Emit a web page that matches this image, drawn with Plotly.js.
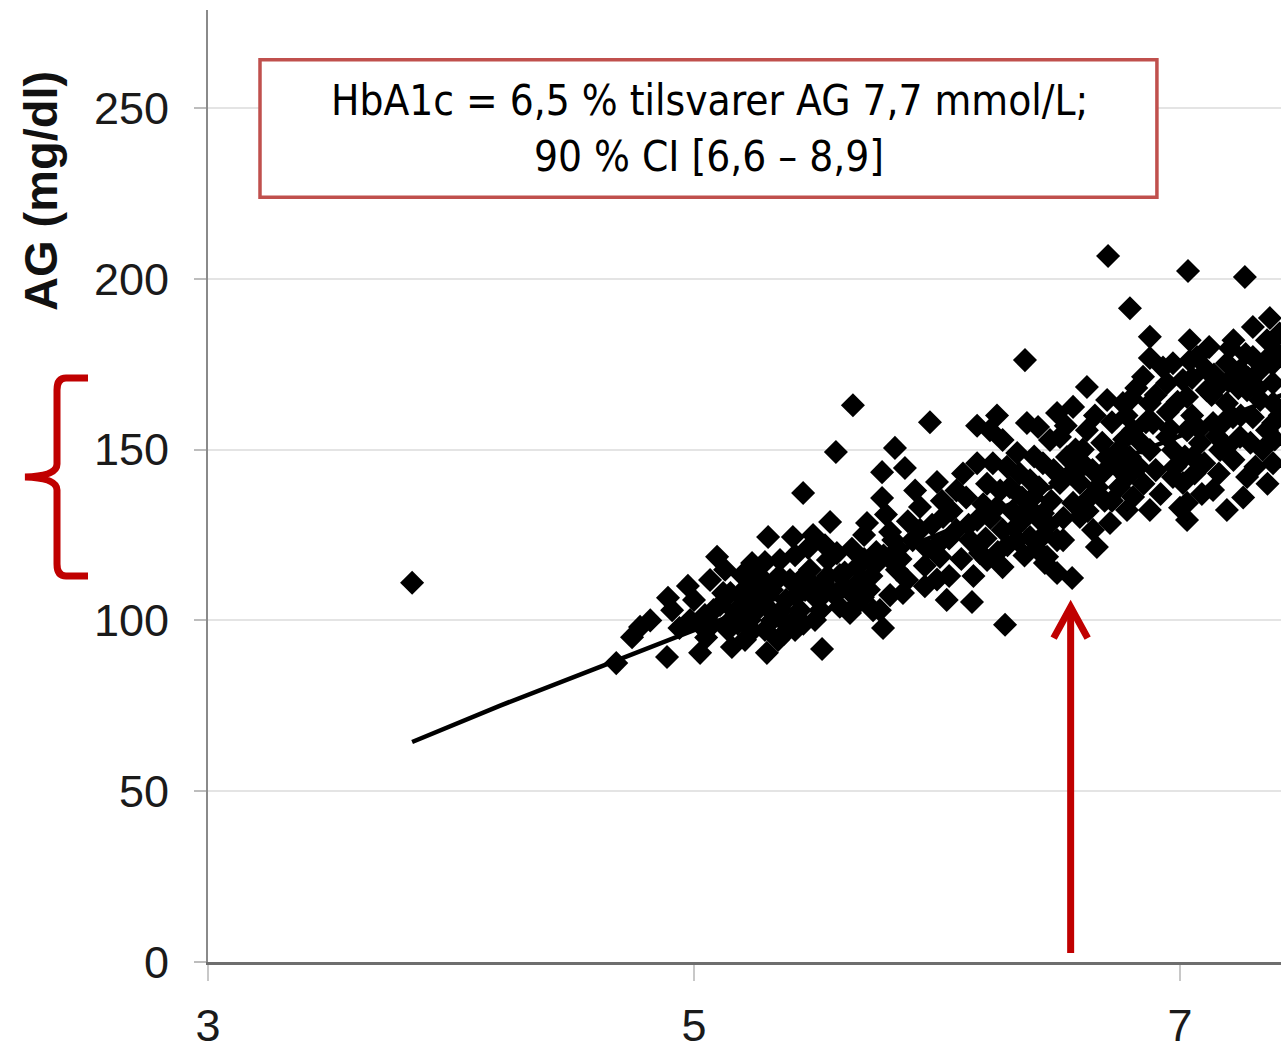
<!DOCTYPE html>
<html>
<head>
<meta charset="utf-8">
<script src="https://cdn.plot.ly/plotly-3.0.1.min.js"></script>
<style>html,body{margin:0;padding:0;background:#fff;}#chart{width:1281px;height:1050px;}</style>
</head>
<body>
<div id="chart"></div>
<script>
// HbA1c (%) of each patient point
const hba1c = [3.84,4.68,4.745,4.778,4.82,4.893,4.889,4.975,4.91,4.94,4.984,5.0,5.025,5.025,5.045,5.066,5.074,5.095,5.107,5.128,5.14,5.156,5.169,5.189,5.198,5.21,5.23,5.239,5.251,5.272,5.292,5.292,5.30,5.305,5.313,5.321,5.346,5.354,5.362,5.379,5.395,5.407,5.416,5.416,5.436,5.449,5.457,5.47,5.477,5.49,5.498,5.51,5.527,5.531,5.539,5.551,5.56,5.584,5.588,5.6,5.613,5.634,5.642,5.654,5.667,5.671,5.695,5.712,5.737,5.745,5.765,5.774,5.774,5.778,5.807,5.807,5.82,5.827,5.835,5.868,5.877,5.9,5.91,5.93,5.93,5.971,6.0,6.012,6.025,6.04,6.08,6.08,6.107,6.136,6.144,6.165,6.165,6.165,6.177,6.206,6.206,6.218,6.247,6.247,6.27,6.27,6.27,6.28,6.288,6.33,6.33,6.354,6.362,6.37,6.383,6.383,6.395,6.416,6.424,6.436,6.436,6.444,6.453,6.465,6.494,6.494,6.494,6.506,6.506,6.519,6.535,6.556,6.56,6.56,6.588,6.588,6.6,6.617,6.617,6.63,6.642,6.658,6.70,6.70,6.704,6.712,6.765,6.782,6.782,6.794,6.794,6.807,6.807,6.848,6.876,6.876,6.876,6.876,6.876,6.889,6.947,6.947,6.971,6.971,6.971,7.012,7.012,7.029,7.029,7.029,7.029,7.033,7.04,7.053,7.07,7.082,7.11,7.11,7.136,7.136,7.165,7.193,7.193,7.193,7.193,7.206,7.218,7.247,7.247,7.267,7.276,7.276,7.3,7.3,7.3,7.33,7.33,7.358,7.358,7.37,7.383,7.383,7.383,7.383,7.4,
5.85,5.88,5.95,5.96,5.98,6.0,6.02,6.05,6.06,6.1,6.12,6.13,6.15,6.19,6.2,6.22,6.23,6.25,6.3,6.31,6.34,6.36,6.4,6.42,6.44,6.47,6.48,6.52,6.53,6.55,6.57,6.62,6.64,6.66,6.68,6.69,6.72,6.74,6.75,6.77,6.8,6.83,6.85,6.9,6.92,6.95,6.98,7.0,7.05,7.06,7.09,7.1,7.13,7.15,7.16,7.22,7.24,7.26,7.29,7.31,7.34,7.36,7.39,7.41,7.41,7.35,7.28,7.2,7.12,7.05,6.99,6.93,6.86,6.82,6.75,
5.05,5.12,5.18,5.26,5.33,5.37,5.42,5.45,5.48,5.52,5.57,5.6,5.62,5.69,5.72,5.75,5.79,5.82,5.86,5.65,5.7,
5.08,5.15,5.2,5.24,5.28,5.32,5.36,5.4,5.44,5.5,5.35,5.27,5.22,5.15,5.55,5.73,5.78,5.84,5.66,5.7,5.95,6.05,6.0,
6.26,6.32,6.38,6.41,6.46,6.35,6.29,6.6,6.65,6.68,6.72,6.78,6.84,6.9,6.96,7.02,7.08,7.14,7.18,7.25,7.32,7.38,7.27,7.22,7.15,7.04];
// AG (mg/dl) of each patient point
const agMgdl = [111,87.5,95.1,98.1,100,106.6,89.3,110.1,103,97.8,100.1,106,90.5,98.7,101.6,111.8,98.7,118.6,104.5,114.8,97.2,92.2,102.5,107.4,113.3,94.3,100.1,116.8,106,110.4,97.2,117.1,90.5,124.4,103,108.9,94.3,117.7,100.1,106,111.8,124.4,97.2,119.1,103,137.3,108.9,121.2,114.8,125,100.1,106,91.6,111.2,122,117.7,128.8,149.3,119.7,113.3,109.8,108.9,102.2,163,104.5,115.6,106.8,128.5,103,116.2,103,143.4,135.8,97.8,107.4,125.9,123.5,150.5,114.8,144.6,111.8,123.5,138,126.5,133.2,158,140.5,118.6,130.3,106,126.5,138,143,123.5,105.4,146,157,129.4,119.7,140,117.7,155.7,160,133.2,152.8,126.5,115.6,98.7,145,149,123.5,129.4,176.2,157.8,141,124.4,136,156.6,129.4,146,131.4,116.8,118.6,152.8,113.9,123.5,160.7,153.7,140.2,123.5,147.8,112.4,162.5,134.4,140.2,130.3,146,168.3,155.7,136.1,126.5,121.5,164.5,147.8,206.7,128.5,163.6,142,132.3,191.4,147.8,155.7,136.1,171.3,183,176.8,163.6,149.9,132.3,157.8,169.5,153.7,175.3,149.9,142,170.4,140.2,165.4,155.7,134.4,129.4,202.3,182,147.8,177.1,151.9,173.3,167.4,157.8,138.2,149.9,175.3,163.6,150.8,132.3,179.7,159.5,173.3,153.7,200.5,167.4,142,185.9,177.1,159.5,173.3,164.5,182,155.7,188.5,169.5,163.6,157.8,146,178.3,
118,129,116,121,128,112,135,124,132,118,136,128,113,134,124,130,146,120,139,132,143,119,148,139,125,135,144,130,157,143,150,132,144,139,152,135,158,145,139,153,165,145,140,144,137,161,145,133,160,143,137,146,166,154,143,147,168,136,152,145,150,140,153,160,184,176,171,170,180,171,164,174,158,168,150,
95,108,99,103,111,96,107,99,111,103,108,104,114,112,109,120,131,117,108,121,125,
103,100,104,97,107,100,103,99,112,109,113,113,110,108,113,113,119,121,110,118,110,113,122,
138,127,133,121,128,136,122,150,160,143,135,160,152,166,156,148,156,172,158,160,168,175,178,182,168,176];
// regression line
const lineX = [3.84, 4.2, 4.6, 5.0, 5.5, 6.0, 6.5, 7.0, 7.42];
const lineY = [64.4, 75, 86, 97, 111, 125, 140, 154, 166];
// axis ticks
const yTicks = [0, 50, 100, 150, 200, 250];
const xTicks = [3, 5, 7];
const boxLine1 = "HbA1c = 6,5 % tilsvarer AG 7,7 mmol/L;";
const boxLine2 = "90 % CI [6,6 – 8,9]";
const yTitle = "AG (mg/dl)";

const W = 1281, H = 1050, ML = 208, MR = 0, MT = 10, MB = 88;
const PW = W - ML - MR, PH = H - MT - MB;
const px = v => (v - ML) / PW;
const py = v => (H - MB - v) / PH;

const red = '#c00000';
// curly brace (pixel outline converted to paper units)
const braceD = 'M' + px(88) + ',' + py(378) + ' L' + px(66) + ',' + py(378) +
  ' Q' + px(57) + ',' + py(378) + ' ' + px(57) + ',' + py(390) +
  ' L' + px(57) + ',' + py(464) +
  ' Q' + px(57) + ',' + py(476) + ' ' + px(25) + ',' + py(477) +
  ' Q' + px(57) + ',' + py(478) + ' ' + px(57) + ',' + py(490) +
  ' L' + px(57) + ',' + py(564) +
  ' Q' + px(57) + ',' + py(576) + ' ' + px(66) + ',' + py(576) +
  ' L' + px(88) + ',' + py(576);

const arrowX = 6.55, arrowTop = 103.9, arrowBottom = 2.6;

const data = [
  {x: hba1c, y: agMgdl, type: 'scatter', mode: 'markers',
   marker: {symbol: 'diamond', size: 18.5, color: '#000', line: {width: 0}}, hoverinfo: 'skip'},
  {x: lineX, y: lineY, type: 'scatter', mode: 'lines',
   line: {color: '#000', width: 4.5}, hoverinfo: 'skip'}
];

const tickFont = {family: 'Liberation Sans, Arial, sans-serif', size: 45, color: '#1a1a1a'};

const layout = {
  width: W, height: H,
  margin: {l: ML, r: MR, t: MT, b: MB, pad: 0},
  paper_bgcolor: '#fff', plot_bgcolor: '#fff',
  showlegend: false,
  xaxis: {range: [3, 3 + PW / 243], tickvals: xTicks, ticktext: xTicks.map(String),
    showgrid: false, zeroline: false, showline: true, linecolor: '#6e6e6e', linewidth: 3,
    ticks: 'outside', ticklen: 16, tickwidth: 2, tickcolor: '#c8c8c8',
    tickfont: tickFont, ticklabelstandoff: 6},
  yaxis: {range: [0, PH / 3.416], tickvals: yTicks, ticktext: yTicks.map(String),
    showgrid: true, gridcolor: '#e4e4e4', gridwidth: 2, zeroline: false,
    showline: true, linecolor: '#8a8a8a', linewidth: 2,
    ticks: 'outside', ticklen: 12, tickwidth: 2, tickcolor: '#bdbdbd',
    tickfont: tickFont, ticklabelstandoff: 16},
  shapes: [
    {type: 'rect', xref: 'x', yref: 'y', x0: 3.214, x1: 6.905, y0: 223.9, y1: 264.1,
     line: {color: '#c0504d', width: 3.5}, fillcolor: '#fff', layer: 'above'},
    {type: 'path', xref: 'paper', yref: 'paper', path: braceD,
     line: {color: red, width: 7}},
    {type: 'line', xref: 'x', yref: 'y', x0: arrowX, x1: arrowX, y0: arrowBottom, y1: arrowTop - 1,
     line: {color: red, width: 7}, layer: 'above'},
    {type: 'path', xref: 'x', yref: 'y',
     path: 'M' + (arrowX - 0.07) + ',' + (arrowTop - 9.1) + ' L' + arrowX + ',' + arrowTop + ' L' + (arrowX + 0.07) + ',' + (arrowTop - 9.1),
     line: {color: red, width: 7}, layer: 'above'}
  ],
  annotations: [
    {xref: 'x', yref: 'y', x: 5.062, y: 252.3, text: boxLine1, showarrow: false,
     font: {family: 'Liberation Sans Narrow, DejaVu Sans Condensed, Noto Sans, sans-serif', size: 42, color: '#000'}},
    {xref: 'x', yref: 'y', x: 5.062, y: 235.7, text: boxLine2, showarrow: false,
     font: {family: 'Liberation Sans Narrow, DejaVu Sans Condensed, Noto Sans, sans-serif', size: 42, color: '#000'}},
    {xref: 'paper', yref: 'paper', x: px(40), y: py(191), text: '<b>' + yTitle + '</b>', showarrow: false,
     textangle: -90, xanchor: 'center', yanchor: 'middle',
     font: {family: 'Liberation Sans, Arial, sans-serif', size: 47, color: '#111'}}
  ]
};

Plotly.newPlot('chart', data, layout, {staticPlot: true, displayModeBar: false});
</script>
</body>
</html>
